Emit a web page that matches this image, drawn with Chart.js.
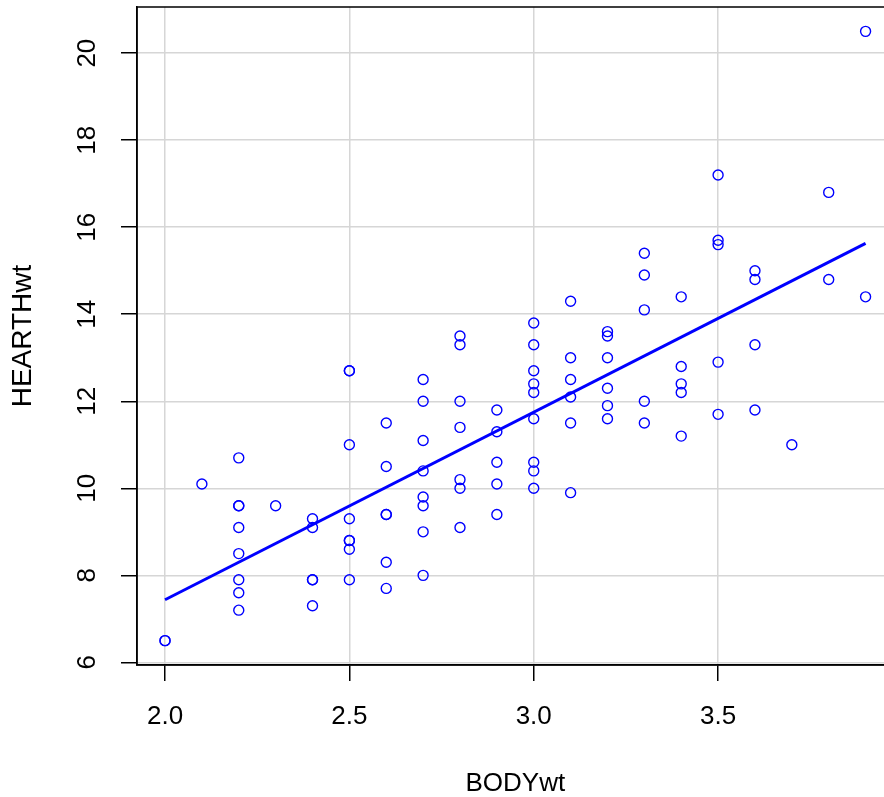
<!DOCTYPE html>
<html>
<head>
<meta charset="utf-8">
<script src="https://cdn.jsdelivr.net/npm/chart.js@4"></script>
<style>
  html, body { margin:0; padding:0; overflow:hidden; background:#fff; }
  canvas { display:block; }
</style>
</head>
<body>
<canvas id="chart" width="900" height="797"></canvas>
<script>
// ── data: male cats, body weight vs heart weight ──
const bodyWt = [
  2.0, 2.0, 2.1, 2.2, 2.2, 2.2, 2.2, 2.2, 2.2, 2.2, 2.2, 2.3,
  2.4, 2.4, 2.4, 2.4, 2.4, 2.5, 2.5, 2.5, 2.5, 2.5, 2.5, 2.5, 2.5,
  2.6, 2.6, 2.6, 2.6, 2.6, 2.6,
  2.7, 2.7, 2.7, 2.7, 2.7, 2.7, 2.7, 2.7,
  2.8, 2.8, 2.8, 2.8, 2.8, 2.8, 2.8,
  2.9, 2.9, 2.9, 2.9, 2.9,
  3.0, 3.0, 3.0, 3.0, 3.0, 3.0, 3.0, 3.0, 3.0,
  3.1, 3.1, 3.1, 3.1, 3.1, 3.1,
  3.2, 3.2, 3.2, 3.2, 3.2, 3.2,
  3.3, 3.3, 3.3, 3.3, 3.3,
  3.4, 3.4, 3.4, 3.4, 3.4,
  3.5, 3.5, 3.5, 3.5, 3.5,
  3.6, 3.6, 3.6, 3.6,
  3.7, 3.8, 3.8, 3.9, 3.9
];
const heartWt = [
  6.5, 6.5, 10.1, 7.2, 7.6, 7.9, 8.5, 9.1, 9.6, 9.6, 10.7, 9.6,
  7.3, 7.9, 7.9, 9.1, 9.3, 7.9, 8.6, 8.8, 8.8, 9.3, 11.0, 12.7, 12.7,
  7.7, 8.3, 9.4, 9.4, 10.5, 11.5,
  8.0, 9.0, 9.6, 9.8, 10.4, 11.1, 12.0, 12.5,
  9.1, 10.0, 10.2, 11.4, 12.0, 13.3, 13.5,
  9.4, 10.1, 10.6, 11.3, 11.8,
  10.0, 10.4, 10.6, 11.6, 12.2, 12.4, 12.7, 13.3, 13.8,
  9.9, 11.5, 12.1, 12.5, 13.0, 14.3,
  11.6, 11.9, 12.3, 13.0, 13.5, 13.6,
  11.5, 12.0, 14.1, 14.9, 15.4,
  11.2, 12.2, 12.4, 12.8, 14.4,
  11.7, 12.9, 15.6, 15.7, 17.2,
  11.8, 13.3, 14.8, 15.0,
  11.0, 14.8, 16.8, 14.4, 20.5
];
// fitted regression line, ends
const fitX = [2.0, 3.9];
const fitY = [7.44, 15.63];

const xTicks = [2.0, 2.5, 3.0, 3.5];
const yTicks = [6, 8, 10, 12, 14, 16, 18, 20];

const FONT = { family: "'Liberation Sans', Arial, sans-serif", size: 26 };
const GRID = '#d6d6d6';

const points = bodyWt.map((x, i) => ({ x, y: heartWt[i] }));
const fitLine = fitX.map((x, i) => ({ x, y: fitY[i] }));

// R-style full box around the plot region
const boxPlugin = {
  id: 'box',
  afterDraw(chart) {
    const { ctx, chartArea: a } = chart;
    ctx.save();
    ctx.strokeStyle = '#000';
    ctx.lineWidth = 1.5;
    ctx.strokeRect(a.left, a.top, a.right - a.left, a.bottom - a.top);
    ctx.restore();
  }
};

new Chart(document.getElementById('chart'), {
  type: 'scatter',
  data: { datasets: [
    { label: 'HEARTHwt', data: points, showLine: false,
      pointStyle: 'circle', pointRadius: 5, pointBorderWidth: 1.4,
      pointBorderColor: '#0000ff', pointBackgroundColor: 'rgba(0,0,0,0)' },
    { label: 'fit', data: fitLine, showLine: true, pointRadius: 0,
      borderColor: '#0000ff', borderWidth: 3 }
  ]},
  options: {
    responsive: false, animation: false,
    layout: { padding: { top: 7, right: 3, left: 0, bottom: 0 } },
    plugins: { legend: { display: false }, tooltip: { enabled: false } },
    scales: {
      x: {
        type: 'linear', min: 1.924, max: 3.976,
        afterBuildTicks: s => { s.ticks = xTicks.map(v => ({ value: v })); },
        afterFit: s => { s.height = 132; s.paddingLeft = 0; s.paddingRight = 0; },
        grid: { color: GRID, lineWidth: 1.5, tickColor: '#000', tickLength: 16, tickWidth: 1.5 },
        border: { color: '#000', width: 1.5 },
        ticks: { font: FONT, color: '#000', padding: 20, maxRotation: 0, callback: v => v.toFixed(1) },
        title: { display: true, text: 'BODYwt', color: '#000', font: { ...FONT, lineHeight: 1 }, padding: { top: 0, bottom: 0 } }
      },
      y: {
        type: 'linear', min: 5.94, max: 21.06,
        afterBuildTicks: s => { s.ticks = yTicks.map(v => ({ value: v })); },
        afterFit: s => { s.width = 137; s.paddingTop = 0; s.paddingBottom = 0; },
        grid: { color: GRID, lineWidth: 1.5, tickColor: '#000', tickLength: 16, tickWidth: 1.5 },
        border: { color: '#000', width: 1.5 },
        ticks: { font: FONT, color: '#000', padding: 19, minRotation: 90, maxRotation: 90, crossAlign: 'center' },
        title: { display: true, text: 'HEARTHwt', color: '#000', font: { ...FONT, size: 28, lineHeight: 1 }, padding: { top: 9, bottom: 0 } }
      }
    }
  },
  plugins: [boxPlugin]
});
</script>
</body>
</html>
